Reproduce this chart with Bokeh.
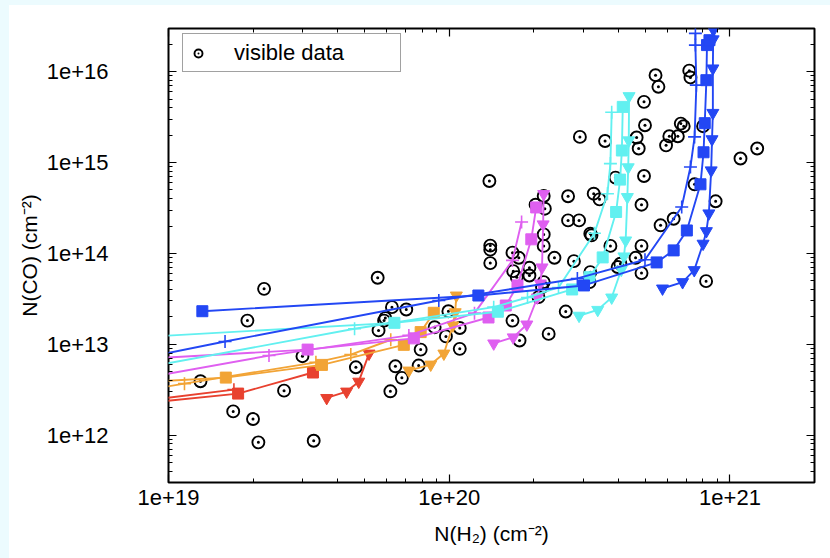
from bokeh.plotting import figure
from bokeh.models import (LogAxis, FixedTicker, CustomJSTickFormatter, Legend,
                          LegendItem, Spacer, Range1d)
from bokeh.layouts import row, column
from bokeh.embed import file_html
from bokeh.resources import INLINE

# ---------------- observed points ("visible data") ----------------
vis_nh2 = [1.30e19, 1.70e19, 2.00e19, 2.09e19, 1.91e19, 2.19e19, 2.58e19, 3.29e19, 3.00e19, 4.65e19,
           5.56e19, 6.17e19, 6.43e19, 6.78e19, 6.25e19, 7.03e19, 5.92e19, 5.86e19, 5.60e19, 7.78e19,
           7.91e19, 8.87e19, 9.93e19, 9.73e19, 1.09e20, 1.09e20, 1.39e20, 1.40e20, 1.40e20, 1.40e20,
           1.68e20, 1.77e20, 1.69e20, 1.74e20, 1.93e20, 1.93e20, 1.68e20, 1.78e20, 2.03e20, 2.17e20,
           2.19e20, 2.17e20, 2.17e20, 2.17e20, 2.14e20, 2.08e20, 2.37e20, 2.26e20, 2.65e20, 2.65e20,
           2.90e20, 2.78e20, 2.60e20, 2.92e20, 3.18e20, 3.21e20, 3.27e20, 3.43e20, 3.18e20, 3.16e20,
           3.59e20, 3.75e20, 3.91e20, 4.07e20, 3.98e20, 4.61e20, 4.65e20, 4.73e20, 4.94e20, 4.98e20,
           4.94e20, 4.84e20, 4.84e20, 4.84e20, 5.43e20, 5.56e20, 5.66e20, 6.30e20, 5.92e20, 6.08e20,
           6.52e20, 6.68e20, 6.84e20, 7.16e20, 7.23e20, 8.02e20, 7.48e20, 8.89e20, 8.22e20, 1.09e21,
           1.25e21]
vis_nco = [3.91e12, 1.82e12, 1.50e12, 8.30e11, 1.82e13, 4.07e13, 3.08e12, 8.65e11, 7.38e12, 5.57e12,
           5.40e13, 3.03e12, 5.71e12, 4.26e12, 2.56e13, 2.41e13, 1.94e13, 1.82e13, 1.42e13, 5.82e12,
           8.73e12, 1.54e13, 2.31e13, 1.22e13, 1.51e13, 8.89e12, 6.28e14, 1.22e14, 1.10e14, 7.82e13,
           1.02e14, 8.95e13, 6.38e13, 5.48e13, 6.95e13, 5.71e13, 1.82e13, 1.10e13, 3.44e14, 4.29e14,
           3.11e14, 1.62e14, 1.21e14, 4.83e13, 4.27e13, 3.30e13, 8.95e13, 1.30e13, 4.26e14, 2.31e14,
           2.31e14, 8.22e13, 2.29e13, 1.92e15, 1.65e14, 1.58e14, 4.55e14, 3.94e14, 6.22e13, 4.83e13,
           1.73e15, 1.21e14, 6.84e14, 7.69e13, 7.08e13, 8.95e13, 1.89e15, 1.43e15, 4.67e15, 2.58e15,
           7.13e14, 3.44e14, 1.21e14, 6.07e13, 9.18e15, 6.84e15, 2.04e14, 2.41e14, 1.55e15, 1.95e15,
           1.95e15, 2.69e15, 2.52e15, 1.03e16, 8.67e15, 2.52e15, 5.77e14, 3.75e14, 4.95e13, 1.11e15,
           1.43e15]

# ---------------- model tracks ----------------
red_plus_x = [3.98e18, 1.71e19]
red_plus_y = [1.82e12, 3.16e12]
red_sq_x = [3.98e18, 1.77e19, 3.27e19]
red_sq_y = [1.79e12, 2.86e12, 4.88e12]
red_tri_x = [3.66e19, 4.31e19, 4.76e19, 5.18e19]
red_tri_y = [2.56e12, 3.01e12, 3.87e12, 7.89e12]

orange_plus_x = [3.98e18, 1.14e19, 3.35e19, 4.46e19, 6.19e19]
orange_plus_y = [2.14e12, 3.68e12, 6.32e12, 7.69e12, 1.12e13]
orange_sq_x = [3.98e18, 1.60e19, 3.52e19, 6.89e19, 7.91e19, 8.81e19]
orange_sq_y = [3.41e12, 4.29e12, 5.92e12, 9.84e12, 1.36e13, 2.22e13]
orange_tri_x = [7.18e19, 8.59e19, 9.57e19, 1.03e20, 1.05e20, 1.06e20]
orange_tri_y = [5.13e12, 5.97e12, 7.89e12, 1.61e13, 2.25e13, 3.44e13]

magenta_plus_x = [3.98e18, 2.28e19, 7.18e19, 1.23e20, 1.68e20, 1.81e20]
magenta_plus_y = [2.83e12, 7.50e12, 1.25e13, 2.20e13, 8.38e13, 2.22e14]
magenta_sq_x = [3.98e18, 3.13e19, 7.48e19, 1.38e20, 1.59e20, 1.75e20, 1.96e20, 2.04e20]
magenta_sq_y = [6.07e12, 8.73e12, 1.16e13, 1.97e13, 2.67e13, 4.44e13, 1.43e14, 3.21e14]
magenta_tri_x = [1.44e20, 1.69e20, 1.89e20, 2.06e20, 2.11e20, 2.14e20, 2.16e20, 2.17e20]
magenta_tri_y = [1.02e13, 1.19e13, 1.65e13, 3.27e13, 4.67e13, 7.01e13, 2.09e14, 4.51e14]

cyan_plus_x = [3.98e18, 4.60e19, 1.44e20, 1.90e20, 2.45e20, 3.29e20, 3.66e20, 3.75e20, 3.79e20]
cyan_plus_y = [3.65e12, 1.48e13, 2.56e13, 3.27e13, 4.22e13, 1.67e14, 4.55e14, 9.75e14, 3.59e15]
cyan_sq_x = [3.98e18, 6.38e19, 1.49e20, 2.74e20, 3.16e20, 3.52e20, 3.93e20, 4.06e20, 4.12e20, 4.15e20]
cyan_sq_y = [1.06e13, 1.72e13, 2.28e13, 4.01e13, 5.48e13, 9.04e13, 2.86e14, 6.50e14, 1.36e15, 4.11e15]
cyan_tri_x = [2.90e20, 3.38e20, 3.79e20, 4.10e20, 4.19e20, 4.25e20, 4.31e20, 4.34e20, 4.36e20, 4.37e20]
cyan_tri_y = [2.06e13, 2.39e13, 3.27e13, 6.61e13, 9.27e13, 1.39e14, 4.18e14, 8.89e14, 1.76e15, 5.40e15]

blue_plus_x = [3.98e18, 1.59e19, 9.18e19, 2.86e20, 4.98e20, 6.73e20, 7.23e20, 7.48e20, 7.59e20, 7.53e20, 7.53e20]
blue_plus_y = [4.55e12, 1.07e13, 3.03e13, 5.30e13, 8.51e13, 3.24e14, 8.95e14, 1.92e15, 7.13e15, 1.97e16, 2.65e16]
blue_sq_x = [1.32e19, 1.27e20, 3.02e20, 5.48e20, 6.30e20, 7.02e20, 7.85e20, 8.05e20, 8.13e20, 8.24e20, 8.28e20, 8.45e20]
blue_sq_y = [2.31e13, 3.44e13, 4.44e13, 7.96e13, 1.08e14, 1.79e14, 5.77e14, 1.30e15, 2.72e15, 8.09e15, 1.97e16, 2.23e16]
blue_tri_x = [5.75e20, 6.78e20, 7.46e20, 8.02e20, 8.24e20, 8.41e20, 8.57e20, 8.63e20, 8.69e20, 8.69e20, 8.71e20, 8.73e20]
blue_tri_y = [4.11e13, 4.83e13, 6.55e13, 1.28e14, 1.76e14, 2.76e14, 8.22e14, 1.81e15, 3.53e15, 1.09e16, 2.28e16, 2.90e16]

x_major = [1e19, 1e20, 1e21]
y_major = [1e12, 1e13, 1e14, 1e15, 1e16]

# ---------------- styling ----------------
RED = "#e8412f"
ORANGE = "#f2a436"
MAGENTA = "#df5ff0"
CYAN = "#62f0f0"
BLUE = "#2347f4"
FONT = "Liberation Sans"
BG = "#ecfbfe"

x_minor = [k * 10.0 ** n for n in (19, 20) for k in range(2, 10)]
y_minor = [k * 10.0 ** n for n in range(11, 17) for k in range(2, 10)]

p = figure(width=821, height=553, x_axis_type="log", y_axis_type="log",
           x_range=Range1d(1e19, 2e21), y_range=Range1d(3e11, 3e16),
           output_backend="svg", toolbar_location=None,
           min_border_left=159, min_border_right=16, min_border_top=23,
           min_border_bottom=76)
p.grid.visible = False
p.outline_line_color = "black"
p.outline_line_width = 2
p.background_fill_color = "white"
p.border_fill_color = "white"

fmt = CustomJSTickFormatter(code="return '1e+' + Math.round(Math.log10(tick));")
empty = CustomJSTickFormatter(code="return '';")
xt = FixedTicker(ticks=x_major, minor_ticks=x_minor)
yt = FixedTicker(ticks=y_major, minor_ticks=y_minor)


def style_axis(ax):
    ax.axis_line_color = None
    ax.major_tick_in = 8
    ax.major_tick_out = 0
    ax.minor_tick_in = 4
    ax.minor_tick_out = 0
    ax.major_tick_line_color = "black"
    ax.minor_tick_line_color = "black"
    ax.major_tick_line_width = 1.2
    ax.minor_tick_line_width = 1
    ax.major_label_text_font = FONT
    ax.major_label_text_font_size = "22px"
    ax.major_label_text_color = "black"
    ax.axis_label_text_font = FONT
    ax.axis_label_text_font_size = "21px"
    ax.axis_label_text_font_style = "normal"
    ax.axis_label_text_color = "black"


xa = p.xaxis[0]
xa.ticker = xt
xa.formatter = fmt
xa.axis_label = "N(H\u2082) (cm\u207b\u00b2)"
style_axis(xa)
xa.major_label_standoff = 7
xa.axis_label_standoff = 14

ya = p.yaxis[0]
ya.ticker = yt
ya.formatter = fmt
ya.axis_label = "N(CO) (cm\u207b\u00b2)"
style_axis(ya)
ya.major_label_standoff = 60
ya.axis_label_standoff = 3

top = LogAxis(ticker=FixedTicker(ticks=x_major, minor_ticks=x_minor), formatter=empty)
style_axis(top)
top.major_label_standoff = 0
p.add_layout(top, "above")
right = LogAxis(ticker=FixedTicker(ticks=y_major, minor_ticks=y_minor), formatter=empty)
style_axis(right)
right.major_label_standoff = 0
p.add_layout(right, "right")

# observed points first
obs = p.scatter(vis_nh2, vis_nco, marker="circle_dot", size=12, fill_color=None,
                line_color="black", line_width=1.9)

tracks = [
    (red_plus_x, red_plus_y, RED, "cross"),
    (red_sq_x, red_sq_y, RED, "square"),
    (red_tri_x, red_tri_y, RED, "inverted_triangle"),
    (orange_plus_x, orange_plus_y, ORANGE, "cross"),
    (orange_sq_x, orange_sq_y, ORANGE, "square"),
    (orange_tri_x, orange_tri_y, ORANGE, "inverted_triangle"),
    (magenta_plus_x, magenta_plus_y, MAGENTA, "cross"),
    (magenta_sq_x, magenta_sq_y, MAGENTA, "square"),
    (magenta_tri_x, magenta_tri_y, MAGENTA, "inverted_triangle"),
    (cyan_plus_x, cyan_plus_y, CYAN, "cross"),
    (cyan_sq_x, cyan_sq_y, CYAN, "square"),
    (cyan_tri_x, cyan_tri_y, CYAN, "inverted_triangle"),
    (blue_plus_x, blue_plus_y, BLUE, "cross"),
    (blue_sq_x, blue_sq_y, BLUE, "square"),
    (blue_tri_x, blue_tri_y, BLUE, "inverted_triangle"),
]
for xs, ys, col, mk in tracks:
    p.line(xs, ys, line_color=col, line_width=1.9)
    if mk == "cross":
        p.scatter(xs, ys, marker="cross", size=13, line_color=col, line_width=1.6)
    elif mk == "square":
        p.scatter(xs, ys, marker="square", size=11, fill_color=col, line_color=col)
    else:
        p.scatter(xs, ys, marker="inverted_triangle", size=12, fill_color=col, line_color=col)

legend = Legend(items=[LegendItem(label="visible data", renderers=[obs])],
                location=(14, 410), margin=0, padding=5, spacing=0,
                glyph_width=20, glyph_height=20, label_standoff=26,
                label_width=161, label_height=27,
                label_text_font=FONT, label_text_font_size="22px",
                label_text_color="black", border_line_color="#444444",
                border_line_width=1.5, background_fill_color="white",
                background_fill_alpha=1.0)
p.add_layout(legend)

layout = row(Spacer(width=9, height=558, styles={"background-color": BG}),
             column(Spacer(width=821, height=5, styles={"background-color": BG}), p,
                    spacing=0),
             spacing=0)

open("out.html", "w").write(file_html(layout, INLINE))
